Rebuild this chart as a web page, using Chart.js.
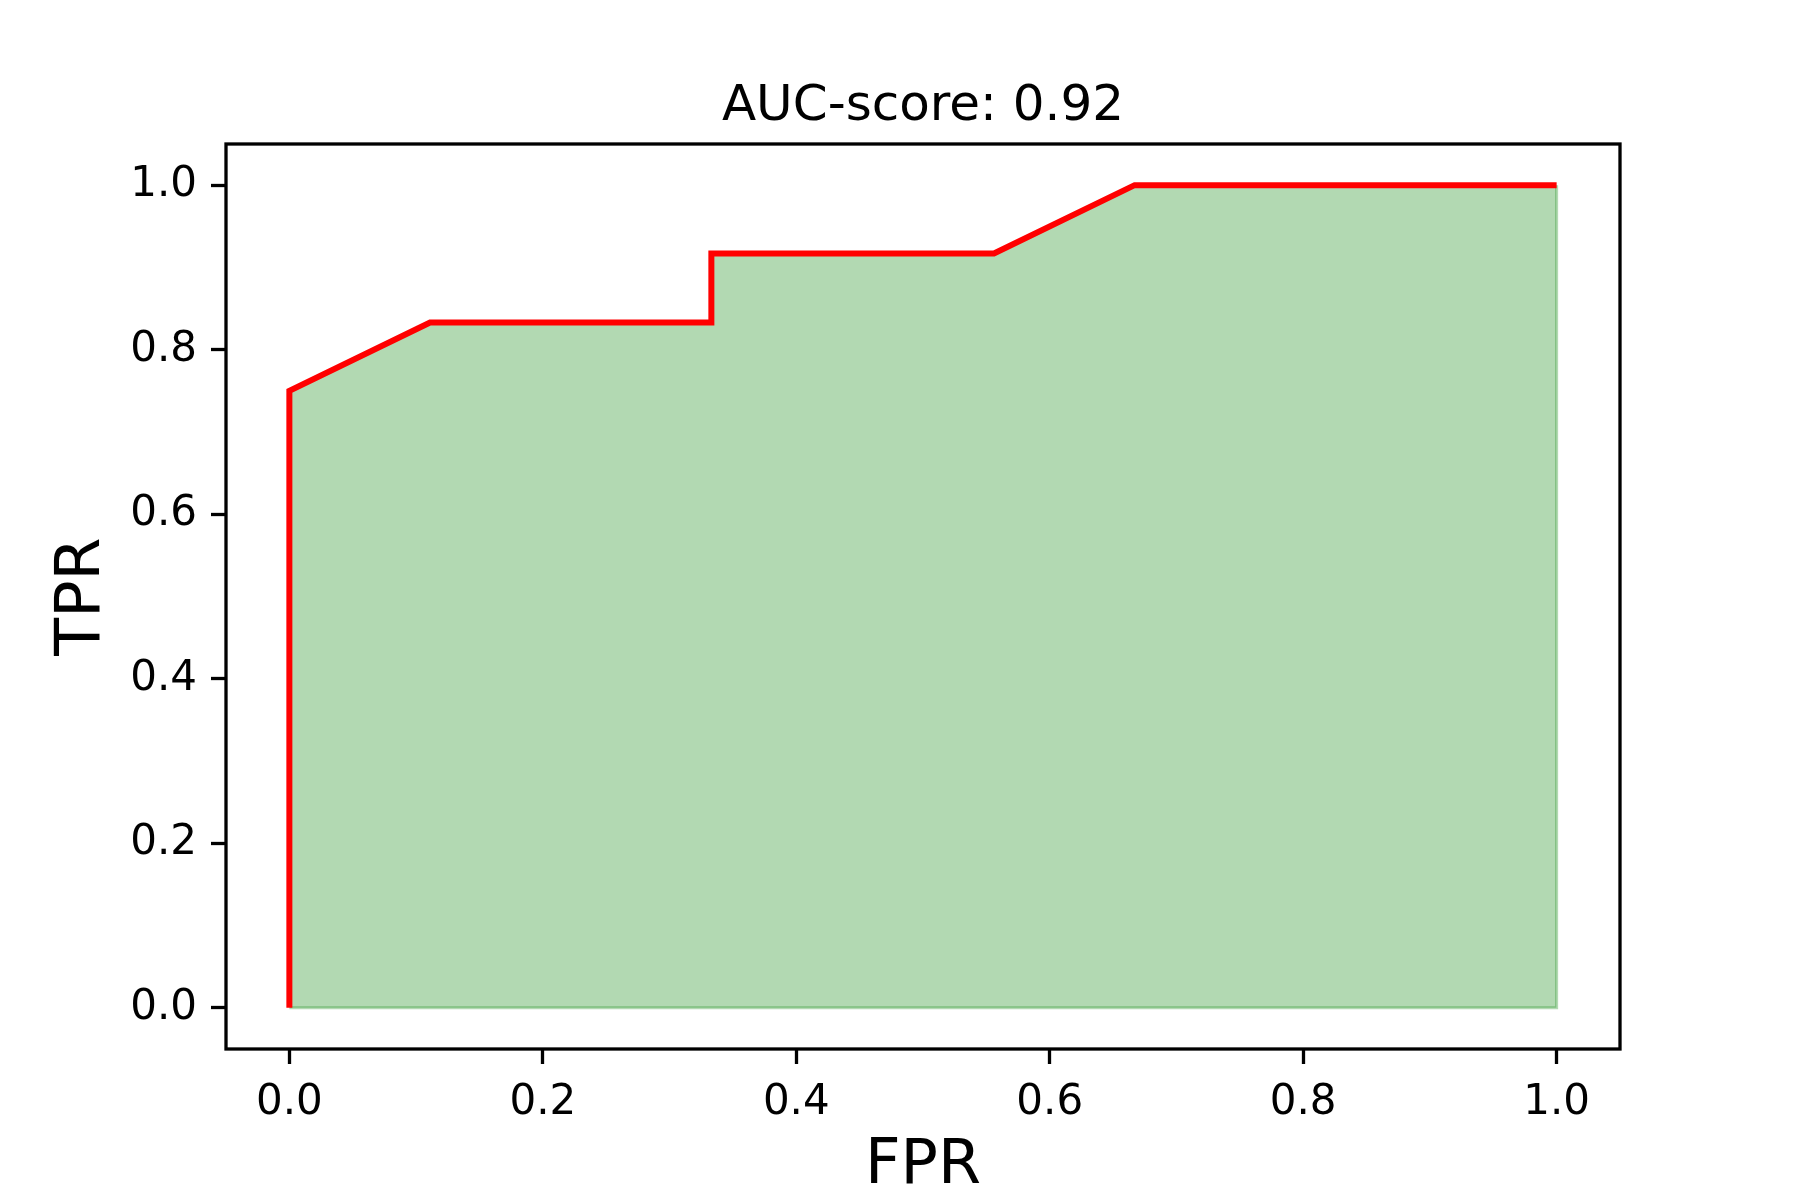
<!DOCTYPE html>
<html>
<head>
<meta charset="utf-8">
<script src="https://cdn.jsdelivr.net/npm/chart.js@4.4.1/dist/chart.umd.min.js"></script>
<style>
  body { margin: 0; background: #fff; }
  canvas { display: block; }
</style>
</head>
<body>
<canvas id="myChart" width="1800" height="1200"></canvas>
<script>
//Data
const fpr = [0, 0, 0.111, 0.333, 0.333, 0.556, 0.667, 1.0];
const tpr = [0, 0.75, 0.833, 0.833, 0.917, 0.917, 1.0, 1.0];
const aucScore = 0.92;
const xTitle = "FPR";
const yTitle = "TPR";

const FONT = "'DejaVu Sans', sans-serif";
var ctx = document.querySelector("#myChart").getContext("2d");

//roc points for the red line and the fill
const rocPoints = fpr.map((x, i) => ({ x: x, y: tpr[i] }));
//outline of the filled area along the right side and the bottom
const last = fpr.length - 1;
const edgePoints = [
  { x: fpr[last], y: tpr[last] },
  { x: fpr[last], y: 0 },
  { x: fpr[0], y: 0 },
];

//frame round the plot + title
const framePlugin = {
  id: "frame",
  afterDraw(chart) {
    const a = chart.chartArea;
    const c = chart.ctx;
    c.save();
    c.strokeStyle = "#000";
    c.lineWidth = 3.3;
    c.strokeRect(a.left, a.top, a.right - a.left, a.bottom - a.top);
    c.fillStyle = "#000";
    c.font = "50px " + FONT;
    c.textAlign = "center";
    c.textBaseline = "alphabetic";
    c.fillText("AUC-score: " + aucScore.toFixed(2), (a.left + a.right) / 2, a.top - 24);
    c.restore();
  },
};

function axisOptions(axisTitle, fit) {
  return {
    type: "linear",
    min: -0.05,
    max: 1.05,
    grid: {
      drawOnChartArea: false,
      drawTicks: true,
      tickLength: 15,
      tickWidth: 3.3,
      tickColor: "#000",
    },
    border: { display: false },
    ticks: {
      stepSize: 0.2,
      includeBounds: false,
      color: "#000",
      font: { family: FONT, size: 42 },
      padding: 14,
      callback: (v) => v.toFixed(1),
    },
    title: {
      display: true,
      text: axisTitle,
      color: "#000",
      font: { family: FONT, size: 62, lineHeight: 1.0 },
      padding: fit.titlePad,
    },
    afterFit: fit.fn,
  };
}

var myChart = new Chart(ctx, {
  type: "scatter",
  data: {
    datasets: [
      {
        data: rocPoints,
        showLine: true,
        borderColor: "#ff0000",
        borderWidth: 6,
        pointRadius: 0,
        tension: 0,
        fill: false,
        order: 1,
      },
      {
        data: edgePoints,
        showLine: true,
        borderColor: "rgba(0,128,0,0.3)",
        borderWidth: 3,
        pointRadius: 0,
        tension: 0,
        fill: false,
        order: 2,
      },
      {
        data: rocPoints,
        showLine: true,
        borderWidth: 0,
        borderColor: "rgba(0,0,0,0)",
        backgroundColor: "rgba(0,128,0,0.3)",
        pointRadius: 0,
        tension: 0,
        fill: "origin",
        order: 3,
      },
    ],
  },
  options: {
    responsive: false,
    animation: false,
    layout: { padding: { left: 0, right: 180, top: 144, bottom: 0 } },
    plugins: {
      legend: { display: false },
      title: { display: false },
      tooltip: { enabled: false },
      filler: { propagate: false },
    },
    scales: {
      x: axisOptions(xTitle, {
        titlePad: { top: 0, bottom: 2 },
        fn: (scale) => { scale.height = 151; },
      }),
      y: axisOptions(yTitle, {
        titlePad: { top: 52, bottom: 0 },
        fn: (scale) => { scale.width = 226; },
      }),
    },
  },
  plugins: [framePlugin],
});
</script>
</body>
</html>
